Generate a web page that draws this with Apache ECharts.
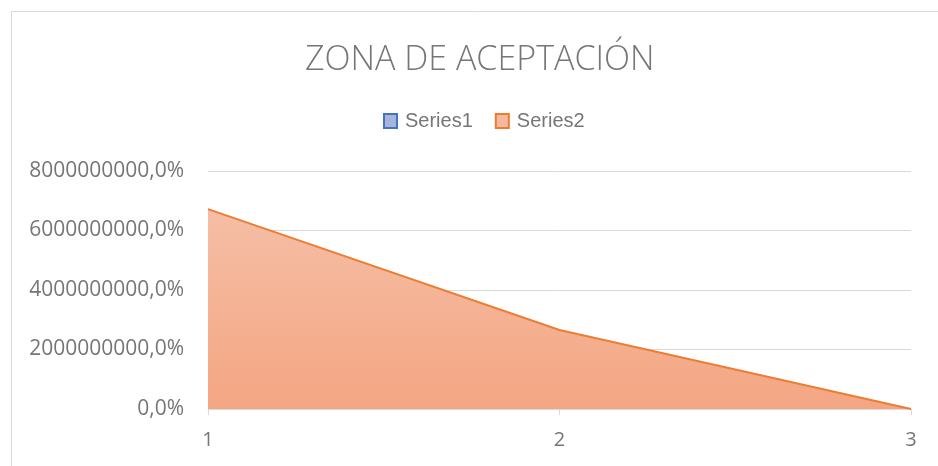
<!DOCTYPE html>
<html>
<head>
<meta charset="utf-8">
<script src="https://cdn.jsdelivr.net/npm/echarts@6/dist/echarts.min.js"></script>
<style>
html,body{margin:0;padding:0;background:#fff;}
#chart{width:938px;height:466px;}
</style>
</head>
<body>
<div id="chart"></div>
<script>
const titleText = 'ZONA DE ACEPTACIÓN';
const categories = ['1', '2', '3'];
const seriesNames = ['Series1', 'Series2'];
const series1Values = [null, null, null];
const series2Values = [6720000000, 2655000000, 0];
const yTicks = [0, 2000000000, 4000000000, 6000000000, 8000000000];

const chart = echarts.init(document.getElementById('chart'));
const labelColor = '#767676';
chart.setOption({
  animation: false,
  backgroundColor: '#fff',
  title: {
    text: titleText,
    left: 300,
    top: 38,
    textStyle: { fontFamily: 'Open Sans', fontSize: 34, fontWeight: 300, color: '#767676' }
  },
  legend: {
    data: seriesNames,
    left: 378,
    top: 106,
    itemWidth: 13,
    itemHeight: 14,
    itemGap: 22,
    icon: 'rect',
    textStyle: { fontFamily: 'Liberation Sans', fontSize: 20, color: labelColor, padding: [0, 0, 0, 3] }
  },
  graphic: [
    { type: 'line', shape: { x1: 11, y1: 11.5, x2: 938, y2: 11.5 }, style: { stroke: '#d9d9d9', lineWidth: 1 } },
    { type: 'line', shape: { x1: 11.5, y1: 11, x2: 11.5, y2: 466 }, style: { stroke: '#d9d9d9', lineWidth: 1 } }
  ],
  grid: { left: 208, right: 27, top: 171, bottom: 57, containLabel: false },
  xAxis: {
    type: 'category',
    data: categories,
    boundaryGap: false,
    axisLine: { lineStyle: { color: '#d9d9d9', width: 1 } },
    axisTick: { show: true, length: 6, lineStyle: { color: '#d9d9d9' } },
    axisLabel: { fontFamily: 'Open Sans', fontSize: 20, color: labelColor, margin: 21 }
  },
  yAxis: {
    type: 'value',
    min: yTicks[0],
    max: yTicks[yTicks.length - 1],
    interval: yTicks[1] - yTicks[0],
    axisLine: { show: false },
    axisTick: { show: false },
    splitLine: { lineStyle: { color: '#d9d9d9', width: 1 } },
    axisLabel: {
      fontFamily: 'Open Sans', fontSize: 21, color: labelColor, margin: 24,
      formatter: v => v.toFixed(1).replace('.', ',') + '%'
    }
  },
  series: [
    {
      name: seriesNames[0], type: 'line', data: series1Values, symbol: 'none',
      itemStyle: { color: '#a5b5dc', borderColor: '#4472c4', borderWidth: 1.5 },
      lineStyle: { color: '#4472c4', width: 2 },
      areaStyle: { color: '#a5b5dc' }
    },
    {
      name: seriesNames[1], type: 'line', data: series2Values, symbol: 'none',
      itemStyle: { color: '#f6b9a0', borderColor: '#ed7d31', borderWidth: 1.5 },
      lineStyle: { color: '#ed7d31', width: 2 },
      areaStyle: {
        opacity: 1,
        color: new echarts.graphic.LinearGradient(0, 0, 0, 1, [
          { offset: 0, color: '#f5bea5' },
          { offset: 1, color: '#f4a683' }
        ])
      }
    }
  ]
});
</script>
</body>
</html>
